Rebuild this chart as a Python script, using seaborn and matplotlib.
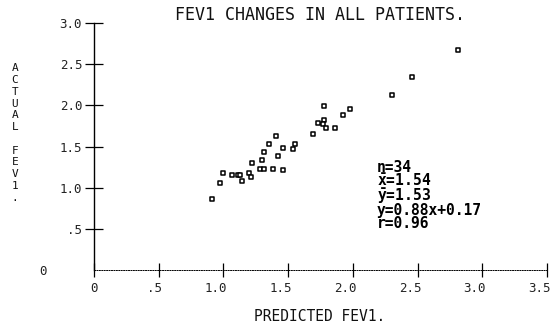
import matplotlib
matplotlib.use('Agg')
import matplotlib.pyplot as plt
import matplotlib.transforms as mtransforms
import pandas as pd
import seaborn as sns

# ---- data ----
predicted = [1.41, 1.35, 1.46, 1.55, 1.54, 1.31, 1.42, 1.30, 1.22, 1.28,
             1.31, 1.38, 1.46, 1.20, 1.21, 1.00, 1.07, 1.11, 1.13, 1.14,
             0.97, 0.91, 1.78, 1.98, 1.92, 1.78, 1.73, 1.77, 1.79, 1.86,
             1.69, 2.81, 2.46, 2.30]
actual = [1.63, 1.53, 1.48, 1.53, 1.47, 1.43, 1.39, 1.34, 1.30, 1.23,
          1.23, 1.23, 1.22, 1.18, 1.13, 1.18, 1.15, 1.15, 1.15, 1.08,
          1.06, 0.86, 1.99, 1.95, 1.88, 1.82, 1.79, 1.77, 1.72, 1.72,
          1.65, 2.67, 2.34, 2.12]

x_ticks = [0, 0.5, 1.0, 1.5, 2.0, 2.5, 3.0, 3.5]
x_tick_labels = ["0", ".5", "1.0", "1.5", "2.0", "2.5", "3.0", "3.5"]
y_ticks = [0, 0.5, 1.0, 1.5, 2.0, 2.5, 3.0]
y_tick_labels = ["0", ".5", "1.0", "1.5", "2.0", "2.5", "3.0"]

title = "FEV1 CHANGES IN ALL PATIENTS."
x_label = "PREDICTED FEV1."
y_label = "ACTUAL FEV1."
stats_lines = ["n=34", r"$\bar{x}$=1.54", r"$\bar{y}$=1.53", "y=0.88x+0.17", "r=0.96"]

# ---- style ----
sns.set_theme(style='white')
plt.rcParams['font.family'] = ['DejaVu Sans Mono', 'DejaVu Sans']
plt.rcParams['mathtext.fontset'] = 'custom'
plt.rcParams['mathtext.rm'] = 'DejaVu Sans Mono:bold'
plt.rcParams['mathtext.it'] = 'DejaVu Sans Mono:bold'
plt.rcParams['mathtext.bf'] = 'DejaVu Sans Mono:bold'

W, H = 557, 329
fig = plt.figure(figsize=(W / 100, H / 100), dpi=100)
fig.patch.set_facecolor('white')
ax = fig.add_axes([94 / W, 1 - 270 / H, 453 / W, 247 / H])
ax.set_facecolor('white')

df = pd.DataFrame({'predicted': predicted, 'actual': actual})
sns.scatterplot(data=df, x='predicted', y='actual', marker='s', s=9,
                facecolor='white', edgecolor='black', linewidth=1.1,
                ax=ax, zorder=3, legend=False)

ax.set_xlim(0, 3.5)
ax.set_ylim(0, 3.0)
ax.set_xlabel('')
ax.set_ylabel('')

for side in ('top', 'right'):
    ax.spines[side].set_visible(False)
ax.spines['left'].set_color('black')
ax.spines['left'].set_linewidth(1.0)
ax.spines['bottom'].set_color('black')
ax.spines['bottom'].set_linewidth(0.7)
ax.spines['bottom'].set_linestyle((0, (1, 1.5)))

ax.set_xticks(x_ticks)
ax.set_xticklabels(x_tick_labels)
ax.set_yticks(y_ticks)
ax.set_yticklabels(y_tick_labels)

ax.tick_params(axis='x', direction='inout', length=10, width=0.9, color='black',
               pad=4, labelsize=9, labelcolor='#222222', bottom=True)
ax.tick_params(axis='y', direction='inout', length=13, width=0.9, color='black',
               pad=2, labelsize=9, labelcolor='#222222', left=True)

# hide the y tick mark at 0 (the original has only the axis corner there)
ax.yaxis.get_major_ticks()[0].tick1line.set_visible(False)

# x labels: last character sits under the tick
xoff = mtransforms.ScaledTranslation(3.7 / 100, 0, fig.dpi_scale_trans)
for lab in ax.get_xticklabels():
    lab.set_horizontalalignment('right')
    lab.set_transform(lab.get_transform() + xoff)

# y label "0" sits further left in the original
y0 = ax.get_yticklabels()[0]
y0.set_transform(y0.get_transform() + mtransforms.ScaledTranslation(-35 / 100, 0, fig.dpi_scale_trans))

# title
fig.text(320 / W, 1 - 20 / H, title, ha='center', va='baseline',
         fontsize=12, color='#111111')
# x label
fig.text(320 / W, 1 - 321 / H, x_label, ha='center', va='baseline',
         fontsize=10.5, color='#111111')
# y label: stacked upright letters
fig.text(15 / W, 1 - 133 / H, "\n".join(list(y_label)), ha='center', va='center',
         fontsize=8, linespacing=1.22, color='#111111')

# statistics block (one multi-line text)
trans = mtransforms.blended_transform_factory(ax.transData, fig.transFigure)
ax.text(2.187, 1 - 160 / H, "\n".join(stats_lines), ha='left', va='top',
        fontsize=10.5, fontweight='bold', linespacing=0.8, color='black',
        transform=trans)

fig.savefig('out.png', dpi=100)
